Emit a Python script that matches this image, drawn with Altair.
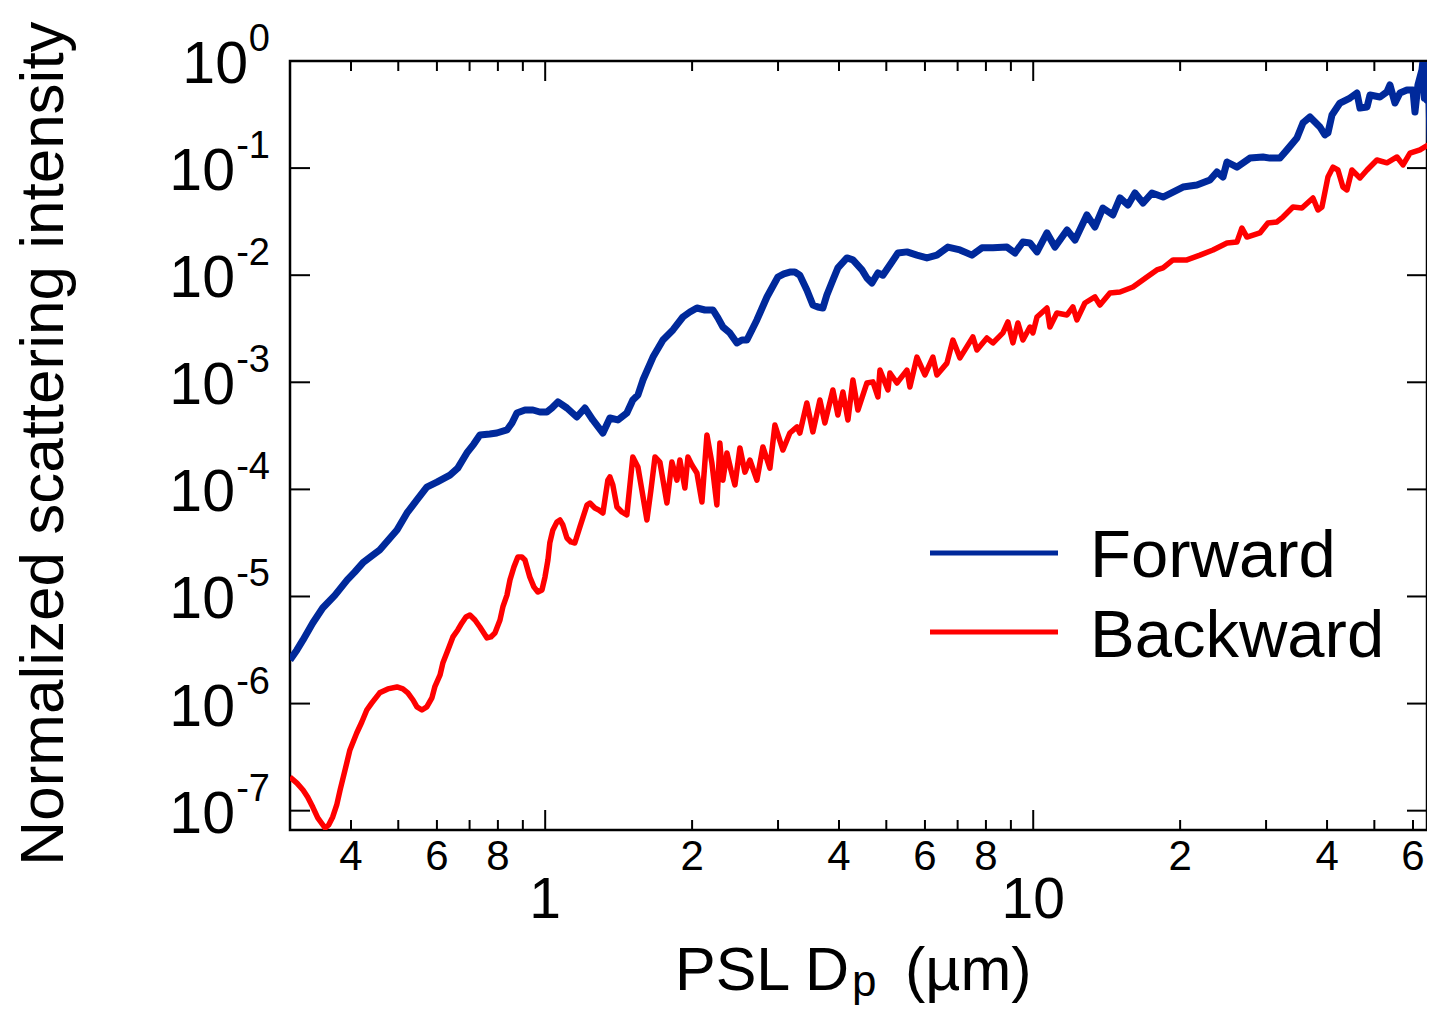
import altair as alt
import pandas as pd

# ---------------- data ----------------
fwd_dp = [0.300,0.310,0.319,0.334,0.350,0.371,0.393,0.407,0.423,0.441,
          0.458,0.481,0.497,0.521,0.546,0.572,0.600,0.638,0.662,0.691,
          0.714,0.735,0.770,0.796,0.835,0.855,0.875,0.909,0.944,0.975,
          1.008,1.032,1.062,1.108,1.161,1.206,1.252,1.313,1.357,1.409,
          1.470,1.512,1.549,1.586,1.663,1.743,1.827,1.915,1.979,2.046,
          2.125,2.207,2.259,2.313,2.390,2.471,2.530,2.590,2.652,2.715,
          2.847,2.914,2.998,3.084,3.172,3.248,3.325,3.437,3.536,3.620,
          3.707,3.777,3.886,3.979,4.152,4.271,4.457,4.563,4.672,4.806,
          4.920,5.134,5.282,5.511,5.777,6.056,6.348,6.687,7.077,7.488,
          7.850,8.268,8.834,9.174,9.526,9.845,10.18,10.67,11.08,11.73,
          12.18,12.88,13.38,13.89,14.56,15.06,15.64,16.16,16.79,17.51,
          18.45,19.34,20.27,21.65,23.02,23.79,24.48,24.95,26.15,27.80,
          29.56,30.55,32.03,33.11,34.70,35.70,36.90,37.78,38.68,39.60,
          40.17,40.94,42.51,44.57,46.06,46.72,48.30,48.98,51.34,53.06,
          53.82,55.11,56.42,58.31,59.99,60.56,61.42,62.59,62.89,63.3,
          63.7,64.09,64.5,65.01,65.4,65.94]
fwd_int = [2.55e-6,3.17e-6,3.93e-6,5.66e-6,7.81e-6,1.03e-5,1.43e-5,1.69e-5,2.06e-5,2.39e-5,
           2.72e-5,3.52e-5,4.18e-5,6.02e-5,7.96e-5,1.05e-4,1.17e-4,1.36e-4,1.58e-4,2.19e-4,
           2.65e-4,3.22e-4,3.29e-4,3.36e-4,3.59e-4,4.17e-4,5.17e-4,5.51e-4,5.51e-4,5.28e-4,
           5.28e-4,5.75e-4,6.55e-4,5.75e-4,4.74e-4,5.75e-4,4.45e-4,3.36e-4,4.64e-4,4.45e-4,
           5.17e-4,6.83e-4,7.61e-4,1.05e-3,1.72e-3,2.48e-3,3.08e-3,4.07e-3,4.53e-3,4.94e-3,
           4.73e-3,4.73e-3,3.99e-3,3.28e-3,2.89e-3,2.33e-3,2.48e-3,2.48e-3,3.08e-3,3.82e-3,
           6.26e-3,7.60e-3,9.62e-3,1.03e-2,1.07e-2,1.07e-2,1.00e-2,7.27e-3,5.27e-3,5.05e-3,
           4.94e-3,6.53e-3,9.02e-3,1.17e-2,1.45e-2,1.39e-2,1.12e-2,9.42e-3,8.46e-3,1.05e-2,
           1.00e-2,1.33e-2,1.61e-2,1.65e-2,1.54e-2,1.45e-2,1.54e-2,1.83e-2,1.72e-2,1.54e-2,
           1.80e-2,1.80e-2,1.83e-2,1.61e-2,2.04e-2,2.00e-2,1.65e-2,2.48e-2,1.83e-2,2.64e-2,
           2.13e-2,3.65e-2,2.82e-2,4.24e-2,3.65e-2,5.26e-2,4.52e-2,5.86e-2,4.72e-2,5.86e-2,
           5.37e-2,5.98e-2,6.66e-2,6.95e-2,7.74e-2,9.20e-2,8.26e-2,1.14e-1,1.02e-1,1.24e-1,
           1.27e-1,1.24e-1,1.24e-1,1.48e-1,1.91e-1,2.64e-1,3.00e-1,2.69e-1,2.42e-1,2.04e-1,
           2.13e-1,3.13e-1,4.05e-1,4.51e-1,5.03e-1,3.64e-1,3.72e-1,4.81e-1,4.61e-1,5.14e-1,
           5.97e-1,4.05e-1,5.03e-1,5.36e-1,5.36e-1,3.34e-1,5.97e-1,8.24e-1,1.0,0.45,
           0.95,4.32e-1,0.9,1.83e-1,0.95,1.0]

bwd_dp = [0.300,0.310,0.319,0.326,0.334,0.342,0.354,0.360,0.367,0.374,
          0.380,0.389,0.398,0.411,0.421,0.431,0.441,0.458,0.476,0.497,
          0.511,0.523,0.536,0.546,0.559,0.572,0.586,0.594,0.609,0.617,
          0.632,0.647,0.662,0.675,0.688,0.701,0.718,0.735,0.760,0.774,
          0.789,0.808,0.819,0.835,0.847,0.863,0.879,0.896,0.909,0.930,
          0.948,0.966,0.985,0.999,1.013,1.022,1.037,1.057,1.072,1.087,
          1.108,1.129,1.150,1.178,1.218,1.235,1.264,1.288,1.313,1.344,
          1.357,1.376,1.403,1.436,1.470,1.512,1.549,1.578,1.616,1.647,
          1.679,1.718,1.776,1.818,1.862,1.888,1.933,1.961,1.998,2.046,
          2.095,2.145,2.196,2.248,2.280,2.313,2.357,2.402,2.448,2.506,
          2.566,2.627,2.715,2.793,2.887,2.956,3.070,3.172,3.281,3.325,
          3.437,3.536,3.655,3.742,3.886,3.979,4.074,4.172,4.271,4.373,
          4.563,4.694,4.806,4.852,5.039,5.086,5.257,5.511,5.589,5.777,
          5.999,6.229,6.348,6.655,6.846,7.077,7.523,7.666,8.037,8.268,
          8.667,8.874,9.087,9.304,9.526,9.845,9.986,10.18,10.67,10.82,
          11.18,11.73,12.06,12.29,12.76,13.38,13.70,14.36,15.06,16.01,
          17.10,17.92,18.45,19.34,20.65,21.96,23.35,24.95,26.15,26.77,
          27.41,29.14,30.26,31.58,32.49,34.06,35.53,37.43,38.32,39.05,
          40.17,41.13,42.11,43.11,43.93,44.98,46.72,48.30,50.61,53.06,
          55.64,57.24,59.16,62.01,65.94]
bwd_int = [2.06e-7,1.81e-7,1.56e-7,1.34e-7,1.08e-7,8.55e-8,6.89e-8,7.35e-8,8.73e-8,1.13e-7,
           1.56e-7,2.40e-7,3.69e-7,5.31e-7,6.73e-7,8.71e-7,1.01e-6,1.26e-6,1.37e-6,1.43e-6,
           1.37e-6,1.26e-6,1.08e-6,9.30e-7,8.71e-7,9.30e-7,1.13e-6,1.43e-6,1.85e-6,2.39e-6,
           3.17e-6,4.19e-6,4.87e-6,5.66e-6,6.44e-6,6.72e-6,6.03e-6,5.19e-6,4.10e-6,4.19e-6,
           4.56e-6,6.03e-6,7.98e-6,1.03e-5,1.43e-5,1.89e-5,2.34e-5,2.34e-5,2.19e-5,1.52e-5,
           1.23e-5,1.10e-5,1.15e-5,1.52e-5,2.19e-5,3.16e-5,4.18e-5,4.96e-5,5.18e-5,4.65e-5,
           3.52e-5,3.23e-5,3.16e-5,4.46e-5,7.15e-5,7.46e-5,6.70e-5,6.42e-5,6.02e-5,1.22e-4,
           1.31e-4,1.10e-4,6.85e-5,6.15e-5,5.77e-5,2.01e-4,1.62e-4,9.87e-5,5.18e-5,9.87e-5,
           2.01e-4,1.80e-4,7.46e-5,1.80e-4,1.22e-4,1.88e-4,1.03e-4,2.01e-4,1.69e-4,1.42e-4,
           7.63e-5,3.22e-4,1.76e-4,7.15e-5,2.71e-4,1.22e-4,2.19e-4,1.52e-4,1.10e-4,2.44e-4,
           1.45e-4,1.88e-4,1.22e-4,2.49e-4,1.58e-4,3.99e-4,2.33e-4,3.36e-4,3.83e-4,3.36e-4,
           6.41e-4,3.44e-4,6.83e-4,4.17e-4,8.48e-4,4.95e-4,8.12e-4,4.45e-4,1.05e-3,5.51e-4,
           9.85e-4,1.01e-3,7.29e-4,1.30e-3,8.48e-4,1.22e-3,9.85e-4,1.30e-3,9.04e-4,1.72e-3,
           1.17e-3,1.72e-3,1.17e-3,1.51e-3,2.48e-3,1.69e-3,2.65e-3,2.00e-3,2.59e-3,2.33e-3,
           2.89e-3,3.66e-3,2.33e-3,3.58e-3,2.48e-3,3.28e-3,2.89e-3,4.07e-3,4.94e-3,3.28e-3,
           4.44e-3,4.25e-3,5.05e-3,3.82e-3,5.50e-3,6.26e-3,5.27e-3,6.82e-3,6.97e-3,7.76e-3,
           9.62e-3,1.12e-2,1.17e-2,1.39e-2,1.39e-2,1.54e-2,1.72e-2,2.00e-2,2.04e-2,2.76e-2,
           2.27e-2,2.48e-2,3.07e-2,3.14e-2,3.49e-2,4.33e-2,4.24e-2,5.26e-2,4.06e-2,4.33e-2,
           8.26e-2,1.02e-1,9.60e-2,6.66e-2,6.25e-2,9.60e-2,8.09e-2,9.60e-2,1.19e-1,1.12e-1,
           1.27e-1,1.07e-1,1.38e-1,1.48e-1,1.75e-1]

series_names = ["Forward", "Backward"]

x_minor_ticks = [0.4, 0.5, 0.6, 0.7, 0.8, 0.9, 2, 3, 4, 5, 6, 7, 8, 9, 20, 30, 40, 50, 60]
x_major_ticks = [1, 10]
x_minor_label_vals = [0.4, 0.6, 0.8, 2, 4, 6, 8, 20, 40, 60]
x_minor_label_text = ["4", "6", "8", "2", "4", "6", "8", "2", "4", "6"]
x_major_label_text = ["1", "10"]
y_tick_vals = [1, 1e-1, 1e-2, 1e-3, 1e-4, 1e-5, 1e-6, 1e-7]
y_tick_exps = ["0", "-1", "-2", "-3", "-4", "-5", "-6", "-7"]

y_title = "Normalized scattering intensity"

# ---------------- chart ----------------
W, H = 1137, 769
BLUE = "#00299b"
RED = "#ff0000"
FONT = "Liberation Sans"

xs = alt.Scale(type="log", domain=[0.3, 64.1], nice=False)
ys = alt.Scale(type="log", domain=[6.6e-8, 1], nice=False)

fwd = pd.DataFrame({"dp": fwd_dp, "intensity": fwd_int, "series": series_names[0]})
bwd = pd.DataFrame({"dp": bwd_dp, "intensity": bwd_int, "series": series_names[1]})


def curve(df, color, width):
    return alt.Chart(df).mark_line(color=color, strokeWidth=width, strokeJoin="round", clip=True).encode(
        x=alt.X("dp:Q", scale=xs, axis=None),
        y=alt.Y("intensity:Q", scale=ys, axis=None),
    )


xmin_df = pd.DataFrame({"v": x_minor_ticks})
xmaj_df = pd.DataFrame({"v": x_major_ticks})
ytk_df = pd.DataFrame({"v": y_tick_vals, "e": y_tick_exps})


def xticks(df, length):
    enc_x = alt.X("v:Q", scale=xs, axis=None)
    bottom = alt.Chart(df).mark_rule(color="black", strokeWidth=2).encode(
        x=enc_x, y=alt.value(H), y2=alt.value(H - length))
    top = alt.Chart(df).mark_rule(color="black", strokeWidth=2).encode(
        x=enc_x, y=alt.value(0), y2=alt.value(length))
    return [bottom, top]


enc_y = alt.Y("v:Q", scale=ys, axis=None)
yt_left = alt.Chart(ytk_df).mark_rule(color="black", strokeWidth=2).encode(
    y=enc_y, x=alt.value(0), x2=alt.value(20))
yt_right = alt.Chart(ytk_df).mark_rule(color="black", strokeWidth=2).encode(
    y=enc_y, x=alt.value(W), x2=alt.value(W - 20))

minor_lab = alt.Chart(pd.DataFrame({"v": x_minor_label_vals, "t": x_minor_label_text})).mark_text(
    font=FONT, fontSize=42, align="center", baseline="alphabetic", color="black").encode(
    x=alt.X("v:Q", scale=xs, axis=None), y=alt.value(H + 40), text="t:N")
major_lab = alt.Chart(pd.DataFrame({"v": x_major_ticks, "t": x_major_label_text})).mark_text(
    font=FONT, fontSize=57, align="center", baseline="alphabetic", color="black").encode(
    x=alt.X("v:Q", scale=xs, axis=None), y=alt.value(H + 88), text="t:N")

EXP_RIGHT = -20
exp_lab = alt.Chart(ytk_df).mark_text(
    font=FONT, fontSize=38, align="right", baseline="alphabetic", dy=-10, color="black").encode(
    y=enc_y, x=alt.value(EXP_RIGHT), text="e:N")
ten_zero = alt.Chart(ytk_df).transform_filter("datum.e == '0'").mark_text(
    text="10", font=FONT, fontSize=59, align="right", baseline="alphabetic", dy=22, color="black").encode(
    y=enc_y, x=alt.value(EXP_RIGHT - 22))
ten_neg = alt.Chart(ytk_df).transform_filter("datum.e != '0'").mark_text(
    text="10", font=FONT, fontSize=59, align="right", baseline="alphabetic", dy=22, color="black").encode(
    y=enc_y, x=alt.value(EXP_RIGHT - 35))

ytitle = alt.Chart(pd.DataFrame({"t": [y_title]})).mark_text(
    font=FONT, fontSize=62, angle=270, align="center", baseline="alphabetic", color="black").encode(
    x=alt.value(-227), y=alt.value(H / 2 - 2), text="t:N")

xt1 = alt.Chart(pd.DataFrame({"t": ["PSL D"]})).mark_text(
    font=FONT, fontSize=61, align="right", baseline="alphabetic", color="black").encode(
    x=alt.value(559), y=alt.value(H + 160), text="t:N")
xt2 = alt.Chart(pd.DataFrame({"t": ["p"]})).mark_text(
    font=FONT, fontSize=44, align="left", baseline="alphabetic", color="black").encode(
    x=alt.value(562), y=alt.value(H + 166), text="t:N")
xt3 = alt.Chart(pd.DataFrame({"t": ["(\u00b5m)"]})).mark_text(
    font=FONT, fontSize=61, align="left", baseline="alphabetic", color="black").encode(
    x=alt.value(615), y=alt.value(H + 160), text="t:N")

leg_df = pd.DataFrame({"series": series_names})
leg_f_line = alt.Chart(leg_df).transform_filter("datum.series == 'Forward'").mark_rule(
    color=BLUE, strokeWidth=5).encode(x=alt.value(640), x2=alt.value(768), y=alt.value(492))
leg_b_line = alt.Chart(leg_df).transform_filter("datum.series == 'Backward'").mark_rule(
    color=RED, strokeWidth=5).encode(x=alt.value(640), x2=alt.value(768), y=alt.value(571))
leg_f_text = alt.Chart(leg_df).transform_filter("datum.series == 'Forward'").mark_text(
    font=FONT, fontSize=67, align="left", baseline="alphabetic", color="black").encode(
    x=alt.value(800), y=alt.value(516), text="series:N")
leg_b_text = alt.Chart(leg_df).transform_filter("datum.series == 'Backward'").mark_text(
    font=FONT, fontSize=67, align="left", baseline="alphabetic", color="black").encode(
    x=alt.value(800), y=alt.value(596), text="series:N")

layers = [curve(bwd, RED, 5.5), curve(fwd, BLUE, 7)]
layers += xticks(xmin_df, 10) + xticks(xmaj_df, 20)
layers += [yt_left, yt_right, minor_lab, major_lab, exp_lab, ten_zero, ten_neg, ytitle,
           xt1, xt2, xt3, leg_f_line, leg_b_line, leg_f_text, leg_b_text]

chart = alt.layer(*layers).properties(
    width=W, height=H,
    autosize=alt.AutoSizeParams(type="none"),
    padding={"left": 282, "top": 53, "right": 0, "bottom": 175},
    background="white",
).configure_view(stroke="black", strokeWidth=2.5)

chart.save("out.html", embed_options={"renderer": "svg", "actions": False})
